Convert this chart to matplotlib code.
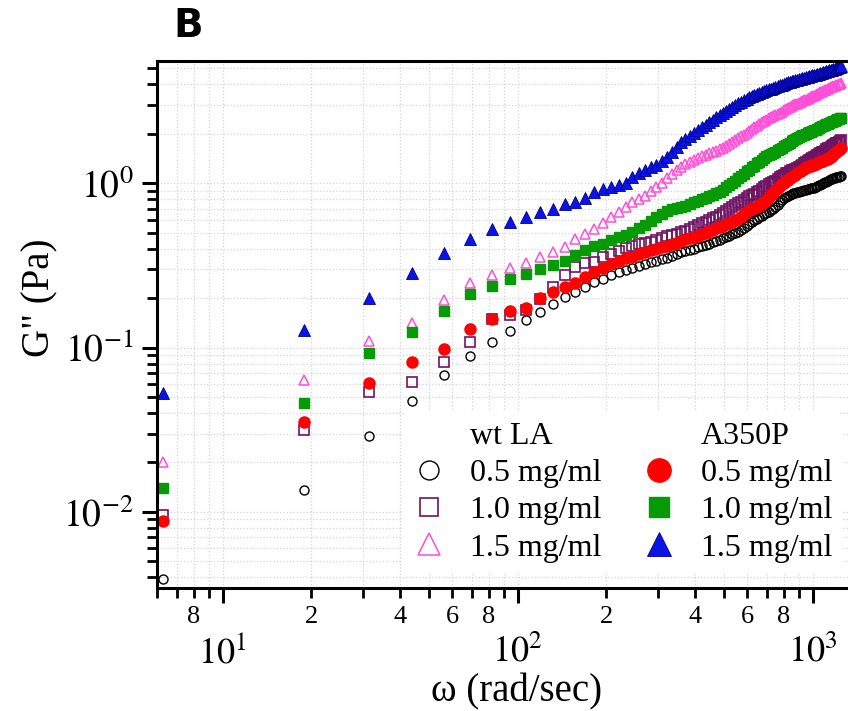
import numpy as np
import matplotlib
matplotlib.use("Agg")
import matplotlib.pyplot as plt
from matplotlib.ticker import LogLocator, FuncFormatter, NullFormatter
from matplotlib.lines import Line2D

plt.rcParams['font.family'] = ['Liberation Serif', 'DejaVu Serif']
plt.rcParams['mathtext.fontset'] = 'stix'

# angular frequency (rad/sec)
omega = [6.3, 18.8, 31.4, 44.0, 56.5, 69.1, 81.7, 94.2, 106.8, 119.4,
         131.9, 144.5, 157.1, 169.6, 182.2, 194.8, 207.3, 219.9, 232.5, 245.0,
         257.6, 270.2, 282.7, 295.3, 307.9, 320.4, 333.0, 345.6, 358.1, 370.7,
         383.3, 395.8, 408.4, 421.0, 433.5, 446.1, 458.7, 471.2, 483.8, 496.4,
         508.9, 521.5, 534.1, 546.6, 559.2, 571.8, 584.3, 596.9, 609.5, 622.0,
         634.6, 647.2, 659.7, 672.3, 684.9, 697.4, 710.0, 722.6, 735.1, 747.7,
         760.3, 772.8, 785.4, 798.0, 810.5, 823.1, 835.7, 848.2, 860.8, 873.4,
         885.9, 898.5, 911.1, 923.6, 936.2, 948.8, 961.3, 973.9, 986.5, 999.0,
         1011.6, 1024.2, 1036.7, 1049.3, 1061.9, 1074.4, 1087.0, 1099.6, 1112.1, 1124.7,
         1137.3, 1149.8, 1162.4, 1175.0, 1187.5, 1200.1, 1212.7, 1225.2, 1237.8, 1250.4]

# G'' (Pa) - wt LA
wt_05 = [0.00389, 0.0136, 0.0291, 0.0473, 0.0678, 0.0893, 0.108, 0.127, 0.147, 0.165,
         0.184, 0.202, 0.219, 0.235, 0.252, 0.263, 0.275, 0.287, 0.296, 0.305,
         0.316, 0.323, 0.331, 0.338, 0.345, 0.353, 0.361, 0.372, 0.380, 0.387,
         0.393, 0.400, 0.409, 0.416, 0.423, 0.430, 0.438, 0.446, 0.454, 0.463,
         0.472, 0.481, 0.490, 0.499, 0.507, 0.518, 0.532, 0.548, 0.565, 0.582,
         0.598, 0.610, 0.622, 0.634, 0.646, 0.659, 0.672, 0.686, 0.700, 0.718,
         0.740, 0.765, 0.790, 0.812, 0.828, 0.842, 0.853, 0.862, 0.870, 0.876,
         0.882, 0.888, 0.894, 0.900, 0.906, 0.912, 0.918, 0.924, 0.930, 0.936,
         0.942, 0.950, 0.960, 0.970, 0.980, 0.990, 1.000, 1.012, 1.025, 1.038,
         1.050, 1.058, 1.066, 1.074, 1.081, 1.088, 1.094, 1.100, 1.106, 1.112]
wt_10 = [0.00955, 0.0315, 0.0537, 0.0620, 0.0821, 0.108, 0.1486, 0.1585, 0.169, 0.198,
         0.233, 0.277, 0.311, 0.326, 0.332, 0.358, 0.373, 0.387, 0.402, 0.418,
         0.426, 0.434, 0.442, 0.452, 0.466, 0.480, 0.487, 0.493, 0.503, 0.514,
         0.527, 0.540, 0.560, 0.572, 0.585, 0.598, 0.612, 0.628, 0.645, 0.662,
         0.680, 0.700, 0.722, 0.740, 0.757, 0.775, 0.795, 0.815, 0.832, 0.850,
         0.866, 0.882, 0.900, 0.925, 0.945, 0.965, 0.985, 1.005, 1.02, 1.04,
         1.06, 1.09, 1.11, 1.13, 1.15, 1.16, 1.18, 1.20, 1.21, 1.23,
         1.24, 1.26, 1.28, 1.30, 1.32, 1.34, 1.36, 1.38, 1.40, 1.42,
         1.44, 1.46, 1.48, 1.50, 1.52, 1.54, 1.56, 1.58, 1.61, 1.63,
         1.65, 1.67, 1.69, 1.71, 1.73, 1.75, 1.77, 1.79, 1.81, 1.83]
wt_15 = [0.0202, 0.0635, 0.110, 0.141, 0.195, 0.246, 0.277, 0.304, 0.326, 0.355,
         0.382, 0.412, 0.456, 0.489, 0.530, 0.575, 0.624, 0.670, 0.716, 0.765,
         0.805, 0.840, 0.893, 0.953, 1.01, 1.07, 1.14, 1.20, 1.26, 1.31,
         1.35, 1.39, 1.42, 1.46, 1.49, 1.52, 1.55, 1.58, 1.62, 1.65,
         1.69, 1.74, 1.79, 1.83, 1.88, 1.93, 1.98, 2.03, 2.08, 2.13,
         2.19, 2.24, 2.29, 2.35, 2.40, 2.44, 2.48, 2.52, 2.57, 2.61,
         2.65, 2.69, 2.73, 2.78, 2.82, 2.86, 2.90, 2.94, 2.98, 3.02,
         3.05, 3.09, 3.13, 3.17, 3.20, 3.23, 3.27, 3.31, 3.35, 3.39,
         3.42, 3.46, 3.50, 3.53, 3.57, 3.61, 3.64, 3.68, 3.72, 3.76,
         3.80, 3.83, 3.86, 3.89, 3.92, 3.95, 3.98, 4.01, 4.04, 4.07]

# G'' (Pa) - A350P
mut_05 = [0.00881, 0.0354, 0.0611, 0.0814, 0.0977, 0.130, 0.149, 0.167, 0.175, 0.1995,
          0.219, 0.233, 0.248, 0.270, 0.287, 0.305, 0.322, 0.338, 0.350, 0.358,
          0.369, 0.382, 0.394, 0.401, 0.408, 0.415, 0.425, 0.436, 0.447, 0.456,
          0.464, 0.472, 0.480, 0.489, 0.499, 0.510, 0.522, 0.533, 0.543, 0.553,
          0.562, 0.572, 0.582, 0.595, 0.610, 0.628, 0.648, 0.668, 0.685, 0.698,
          0.710, 0.722, 0.735, 0.750, 0.770, 0.795, 0.822, 0.850, 0.878, 0.905,
          0.935, 0.965, 0.990, 1.01, 1.03, 1.05, 1.07, 1.09, 1.11, 1.13,
          1.15, 1.17, 1.19, 1.21, 1.23, 1.25, 1.26, 1.27, 1.28, 1.29,
          1.30, 1.31, 1.33, 1.34, 1.35, 1.36, 1.37, 1.38, 1.40, 1.41,
          1.43, 1.45, 1.47, 1.50, 1.52, 1.54, 1.57, 1.59, 1.62, 1.64]
mut_10 = [0.0140, 0.0462, 0.0923, 0.125, 0.168, 0.211, 0.238, 0.263, 0.281, 0.301,
          0.318, 0.338, 0.366, 0.393, 0.414, 0.430, 0.449, 0.468, 0.486, 0.506,
          0.531, 0.556, 0.588, 0.625, 0.652, 0.677, 0.695, 0.707, 0.718, 0.730,
          0.748, 0.766, 0.785, 0.800, 0.815, 0.832, 0.850, 0.868, 0.890, 0.915,
          0.945, 0.975, 1.005, 1.040, 1.075, 1.11, 1.14, 1.18, 1.21, 1.25,
          1.28, 1.32, 1.35, 1.39, 1.43, 1.46, 1.49, 1.51, 1.53, 1.56,
          1.59, 1.62, 1.65, 1.68, 1.71, 1.74, 1.77, 1.80, 1.83, 1.87,
          1.90, 1.92, 1.94, 1.96, 1.98, 2.00, 2.02, 2.04, 2.06, 2.08,
          2.10, 2.12, 2.14, 2.17, 2.19, 2.22, 2.24, 2.26, 2.28, 2.31,
          2.33, 2.35, 2.37, 2.39, 2.41, 2.43, 2.45, 2.47, 2.49, 2.51]
mut_15 = [0.053, 0.128, 0.200, 0.283, 0.378, 0.458, 0.527, 0.584, 0.626, 0.669,
          0.695, 0.745, 0.773, 0.811, 0.88, 0.92, 0.95, 0.97, 1.00, 1.09,
          1.16, 1.21, 1.25, 1.29, 1.37, 1.45, 1.56, 1.67, 1.78, 1.86,
          1.94, 2.02, 2.10, 2.19, 2.27, 2.35, 2.44, 2.52, 2.61, 2.69,
          2.77, 2.85, 2.92, 2.99, 3.07, 3.13, 3.20, 3.26, 3.33, 3.40,
          3.46, 3.51, 3.56, 3.60, 3.65, 3.69, 3.73, 3.77, 3.82, 3.86,
          3.90, 3.94, 3.98, 4.03, 4.07, 4.11, 4.14, 4.18, 4.21, 4.25,
          4.28, 4.31, 4.34, 4.37, 4.40, 4.42, 4.44, 4.47, 4.50, 4.53,
          4.56, 4.59, 4.62, 4.65, 4.68, 4.71, 4.74, 4.77, 4.80, 4.83,
          4.86, 4.89, 4.92, 4.95, 4.98, 5.01, 5.05, 5.09, 5.12, 5.16]

conc_labels = ['0.5 mg/ml', '1.0 mg/ml', '1.5 mg/ml']

fig = plt.figure(figsize=(8.48, 7.11), dpi=100)
ax = fig.add_axes([0.1851, 0.173, 0.8149, 0.7412])

# wt LA: open markers
ax.plot(omega, wt_05, 'o', ms=6.5, mfc='none', mec='black', mew=1.0, ls='none')
ax.plot(omega, wt_10, 's', ms=6.5, mfc='none', mec='#6e1263', mew=1.2, ls='none')
ax.plot(omega, wt_15, '^', ms=7.5, mfc='none', mec='#ff4fd8', mew=1.1, ls='none')
# A350P: filled markers
ax.plot(omega, mut_05, 'o', ms=8, mfc='#ff0000', mec='#ff0000', ls='none')
ax.plot(omega, mut_10, 's', ms=7, mfc='#079a07', mec='#079a07', ls='none')
ax.plot(omega, mut_15, '^', ms=8, mfc='#0a14e6', mec='#00008b', mew=0.6, ls='none')

ax.set_xscale('log')
ax.set_yscale('log')
ax.set_xlim(5.99, 1318)
ax.set_ylim(0.003446, 5.55)

ax.xaxis.set_major_locator(LogLocator(base=10))
ax.xaxis.set_minor_locator(LogLocator(base=10, subs=np.arange(2, 10)))
ax.yaxis.set_major_locator(LogLocator(base=10))
ax.yaxis.set_minor_locator(LogLocator(base=10, subs=np.arange(2, 10)))


def major_fmt(v, pos):
    return r'$10^{%d}$' % int(round(np.log10(v)))


def minor_fmt(v, pos):
    m = int(round(v / 10 ** np.floor(np.log10(v) + 1e-9)))
    if m in (2, 4, 6, 8) and v > 7:
        return str(m)
    return ''


ax.xaxis.set_major_formatter(FuncFormatter(major_fmt))
ax.xaxis.set_minor_formatter(FuncFormatter(minor_fmt))
ax.yaxis.set_major_formatter(FuncFormatter(major_fmt))
ax.yaxis.set_minor_formatter(NullFormatter())

ax.tick_params(which='major', direction='out', length=11, width=2.2, colors='black')
ax.tick_params(which='minor', direction='out', length=7, width=2.0, colors='black')
ax.tick_params(axis='x', which='major', labelsize=26, pad=23)
ax.tick_params(axis='x', which='minor', labelsize=19, pad=6)
ax.tick_params(axis='y', which='major', labelsize=27, pad=6)

ax.grid(True, which='both', color='#d4d4d4', ls=':', lw=0.9)
ax.set_axisbelow(True)

for s in ['left', 'bottom', 'top']:
    ax.spines[s].set_linewidth(2.2)
ax.spines['right'].set_visible(False)

ax.set_xlabel(u'\u03c9 (rad/sec)', fontsize=28)
ax.xaxis.set_label_coords(0.52, -0.162)
ax.xaxis.label.set_va('top')
ax.set_ylabel('G" (Pa)', fontsize=28)
ax.yaxis.set_label_coords(-0.143, 0.55)

# legend in two titled columns
blank = Line2D([], [], ls='none', marker='none')
handles = [blank,
           Line2D([], [], ls='none', marker='o', ms=6.5, mfc='none', mec='black', mew=1.0),
           Line2D([], [], ls='none', marker='s', ms=6.5, mfc='none', mec='#6e1263', mew=1.2),
           Line2D([], [], ls='none', marker='^', ms=7.5, mfc='none', mec='#ff4fd8', mew=1.1),
           blank,
           Line2D([], [], ls='none', marker='o', ms=8, mfc='#ff0000', mec='#ff0000'),
           Line2D([], [], ls='none', marker='s', ms=7, mfc='#079a07', mec='#079a07'),
           Line2D([], [], ls='none', marker='^', ms=8, mfc='#0a14e6', mec='#00008b', mew=0.6)]
labels = ['wt LA'] + conc_labels + ['A350P'] + conc_labels
leg = ax.legend(handles, labels, ncol=2, loc='upper left', bbox_to_anchor=(0.333, 0.365),
                fontsize=23, markerscale=2.1, frameon=True, facecolor='white',
                edgecolor='none', framealpha=1, handlelength=1.0, handletextpad=0.8,
                columnspacing=1.3, labelspacing=0.25, borderpad=0.3)

fig.text(0.204, 0.963, 'B', fontsize=28, fontweight='bold', family='DejaVu Sans',
         ha='left', va='center')

fig.savefig('out.png', dpi=100)
